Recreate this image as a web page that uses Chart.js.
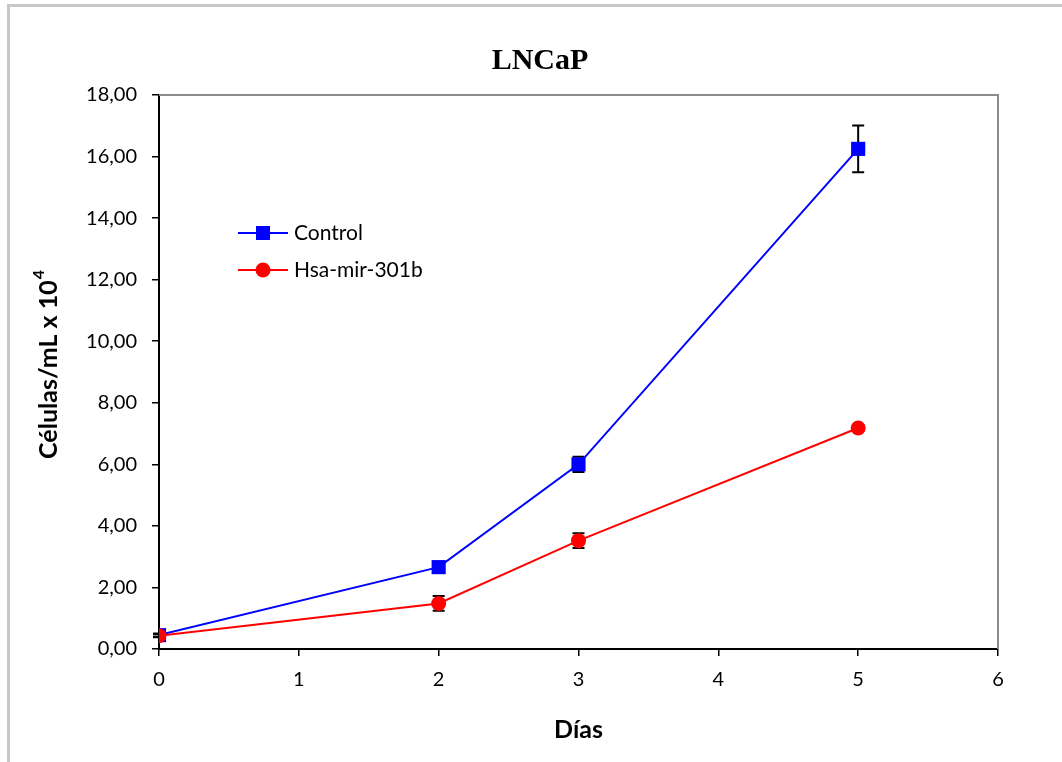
<!DOCTYPE html>
<html lang="es">
<head>
    <meta charset="UTF-8">
    <title>LNCaP</title>
    <script src="https://cdn.jsdelivr.net/npm/chart.js"></script>
    <style>
        body {
            margin: 0;
            background: #fff;
            overflow: hidden;
        }
        .marco {
            position: absolute;
            left: 7px;
            top: 4px;
            width: 1100px;
            height: 800px;
            border-left: 3px solid #c8c8c8;
            border-top: 3px solid #c8c8c8;
        }
        canvas {
            position: absolute;
            left: 0;
            top: 0;
        }
    </style>
</head>
<body>
    <div class="marco"></div>
    <canvas id="grafico" width="1062" height="762"></canvas>

    <script>
        // días de cultivo y recuento celular (x 10^4 células/mL)
        const dias = [0, 2, 3, 5];
        const control = [0.45, 2.66, 6.0, 16.25];
        const mir301b = [0.43, 1.48, 3.52, 7.18];
        const controlErr = [0.05, 0.15, 0.25, 0.76];
        const mir301bErr = [0.05, 0.24, 0.24, 0.1];

        const azul = '#0000ff';
        const rojo = '#ff0000';
        const fuente = 'Lato, "Open Sans", sans-serif';

        const fmt = v => v.toFixed(2).replace('.', ',');

        // barras de error (negro, con remate) bajo los marcadores
        const barrasError = {
            id: 'barrasError',
            beforeDatasetsDraw(chart) {
                const ctx = chart.ctx;
                const x = chart.scales.x, y = chart.scales.y;
                ctx.save();
                ctx.strokeStyle = '#000';
                ctx.lineWidth = 2;
                chart.data.datasets.forEach(ds => {
                    ds.data.forEach((p, i) => {
                        const e = ds.errores[i];
                        const px = x.getPixelForValue(p.x);
                        const y1 = y.getPixelForValue(p.y + e);
                        const y2 = y.getPixelForValue(p.y - e);
                        ctx.beginPath();
                        ctx.moveTo(px, y1); ctx.lineTo(px, y2);
                        ctx.moveTo(px - 6, y1); ctx.lineTo(px + 6, y1);
                        ctx.moveTo(px - 6, y2); ctx.lineTo(px + 6, y2);
                        ctx.stroke();
                    });
                });
                ctx.restore();
            }
        };

        // marco gris superior y derecho del área de trazado
        const bordeArea = {
            id: 'bordeArea',
            beforeDatasetsDraw(chart) {
                const {ctx, chartArea: a} = chart;
                ctx.save();
                ctx.strokeStyle = '#8c8c8c';
                ctx.lineWidth = 2;
                ctx.beginPath();
                ctx.moveTo(a.left, a.top);
                ctx.lineTo(a.right, a.top);
                ctx.lineTo(a.right, a.bottom);
                ctx.stroke();
                ctx.restore();
            }
        };

        // título del eje Y con exponente
        const tituloY = {
            id: 'tituloY',
            afterDraw(chart) {
                const {ctx, chartArea: a} = chart;
                const base = 'Células/mL x 10';
                ctx.save();
                ctx.fillStyle = '#000';
                ctx.font = 'bold 25px ' + fuente;
                const w1 = ctx.measureText(base).width;
                ctx.font = 'bold 16px ' + fuente;
                const w2 = ctx.measureText('4').width;
                ctx.translate(49, (a.top + a.bottom) / 2 - 7);
                ctx.rotate(-Math.PI / 2);
                ctx.textBaseline = 'middle';
                ctx.textAlign = 'left';
                const x0 = -(w1 + w2) / 2;
                ctx.font = 'bold 25px ' + fuente;
                ctx.fillText(base, x0, 0);
                ctx.font = 'bold 16px ' + fuente;
                ctx.fillText('4', x0 + w1 + 1, -10);
                ctx.restore();
            }
        };

        // leyenda dentro del área de trazado
        const leyenda = {
            id: 'leyenda',
            afterDraw(chart) {
                const ctx = chart.ctx;
                const filas = [
                    {ds: chart.data.datasets[1], y: 233},
                    {ds: chart.data.datasets[0], y: 270}
                ];
                ctx.save();
                filas.forEach(f => {
                    ctx.strokeStyle = f.ds.borderColor;
                    ctx.fillStyle = f.ds.backgroundColor;
                    ctx.lineWidth = 2;
                    ctx.beginPath();
                    ctx.moveTo(238, f.y);
                    ctx.lineTo(288, f.y);
                    ctx.stroke();
                    if (f.ds.pointStyle === 'rect') {
                        ctx.fillRect(256, f.y - 7, 14, 14);
                    } else {
                        ctx.beginPath();
                        ctx.arc(263, f.y, 7.5, 0, Math.PI * 2);
                        ctx.fill();
                    }
                    ctx.fillStyle = '#000';
                    ctx.font = '21px ' + fuente;
                    ctx.textBaseline = 'middle';
                    ctx.fillText(f.ds.label, 294, f.y);
                });
                ctx.restore();
            }
        };

        const puntos = vals => vals.map((v, i) => ({x: dias[i], y: v}));

        new Chart(document.getElementById('grafico'), {
            type: 'line',
            data: {
                datasets: [
                    {
                        label: 'Hsa-mir-301b',
                        data: puntos(mir301b),
                        errores: mir301bErr,
                        borderColor: rojo,
                        backgroundColor: rojo,
                        borderWidth: 2,
                        pointStyle: 'circle',
                        pointRadius: 7.5,
                        pointBorderWidth: 0,
                        order: 0
                    },
                    {
                        label: 'Control',
                        data: puntos(control),
                        errores: controlErr,
                        borderColor: azul,
                        backgroundColor: azul,
                        borderWidth: 2,
                        pointStyle: 'rect',
                        pointRadius: 10,
                        pointBorderWidth: 0,
                        order: 1
                    }
                ]
            },
            options: {
                responsive: false,
                animation: false,
                layout: { padding: { left: 82, right: 64, top: 0, bottom: 0 } },
                plugins: {
                    legend: { display: false },
                    tooltip: { enabled: false },
                    title: {
                        display: true,
                        text: 'LNCaP',
                        color: '#000',
                        font: { family: '"Liberation Serif", serif', size: 30, weight: 'bold' },
                        padding: { top: 43, bottom: 16 }
                    }
                },
                scales: {
                    x: {
                        type: 'linear',
                        min: 0,
                        max: 6,
                        ticks: {
                            stepSize: 1,
                            color: '#000',
                            font: { family: fuente, size: 20 },
                            padding: 12
                        },
                        grid: { drawOnChartArea: false, tickLength: 7, color: '#000', lineWidth: 1.5 },
                        border: { color: '#000', width: 2 },
                        title: {
                            display: true,
                            text: 'Días',
                            color: '#000',
                            font: { family: fuente, size: 25, weight: 'bold' },
                            padding: { top: 0, bottom: 17 }
                        },
                        afterFit: s => { s.height = 113; }
                    },
                    y: {
                        min: 0,
                        max: 18,
                        ticks: {
                            stepSize: 2,
                            color: '#000',
                            font: { family: fuente, size: 20 },
                            padding: 15,
                            callback: v => fmt(v)
                        },
                        grid: { drawOnChartArea: false, tickLength: 7, color: '#000', lineWidth: 1.5 },
                        border: { color: '#000', width: 2 },
                        afterFit: s => { s.width = 77; }
                    }
                }
            },
            plugins: [bordeArea, barrasError, tituloY, leyenda]
        });
    </script>
</body>
</html>
